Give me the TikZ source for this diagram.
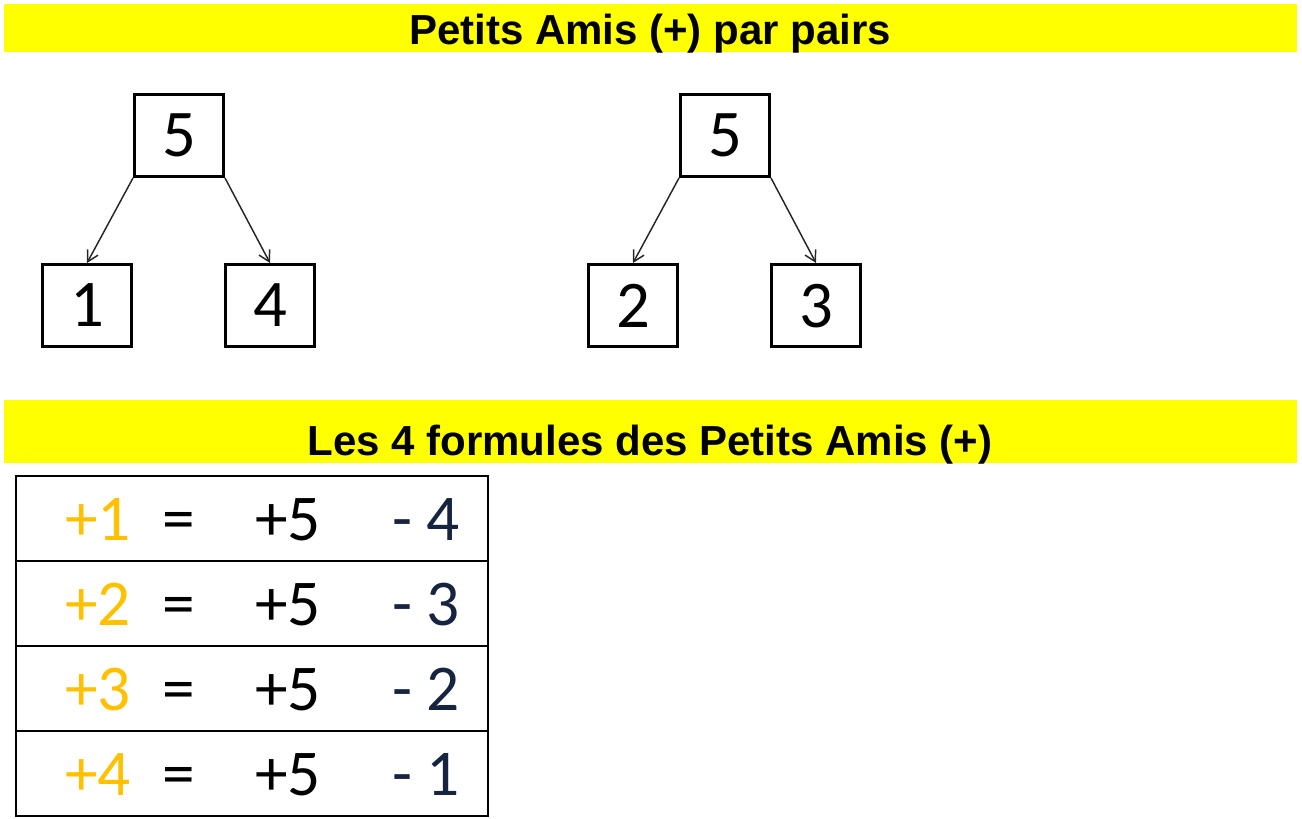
\documentclass[tikz,border=0pt]{standalone}
\usepackage{fontspec}
\setmainfont{Carlito}
\newfontfamily\titlefont{Liberation Sans}
\usetikzlibrary{arrows.meta}
\definecolor{bandyellow}{RGB}{255,255,0}
\definecolor{amigold}{RGB}{255,192,0}
\definecolor{darknavy}{RGB}{22,36,64}

\begin{document}
\begin{tikzpicture}[x=0.75pt,y=-0.75pt,
        numbox/.style={draw, line width=2.25pt, minimum width=66.75pt, minimum height=61.5pt, inner sep=0pt, font=\fontsize{50}{54}\selectfont},
        link/.style={-{Straight Barb[length=8pt,width=9pt]}, line width=1.1pt, draw=black!85},
        title/.style={anchor=base, font=\titlefont\bfseries\fontsize{31.5}{34}\selectfont},
        rowbox/.style={draw, line width=1.5pt, minimum width=354pt, minimum height=63.75pt, inner sep=0pt, anchor=north west},
        cell/.style={anchor=base, font=\fontsize{49}{52}\selectfont}]
        \useasboundingbox (0,0) rectangle (1302,818);

        % bandeaux jaunes
        \fill[bandyellow] (4,4) rectangle (1297,52);
        \fill[bandyellow] (4,400) rectangle (1297,463);
        \node[title] (titre1) at (650,44) {Petits Amis (+) par pairs};
        \node[title] (titre2) at (650,455) {Les 4 formules des Petits Amis (+)};

        % premier arbre
        \node[numbox, text depth=-3pt] (cinqA) at (179,135.5) {5};
        \node[numbox, text depth=-3pt] (un) at (87,305.5) {1};
        \node[numbox, text depth=-3pt] (quatre) at (270,305.5) {4};
        \draw[link] (cinqA.south west) -- (un.north);
        \draw[link] (cinqA.south east) -- (quatre.north);

        % second arbre
        \node[numbox, text depth=-3pt] (cinqB) at (725,135.5) {5};
        \node[numbox, text depth=-3pt] (deux) at (633,305.5) {2};
        \node[numbox, text depth=-3pt] (trois) at (816,305.5) {3};
        \draw[link] (cinqB.south west) -- (deux.north);
        \draw[link] (cinqB.south east) -- (trois.north);

        % tableau des formules
        \foreach \a/\b [count=\i] in {1/4,2/3,3/2,4/1}{
            \node[rowbox] (ligne\i) at (15,{475+85*(\i-1)}) {};
            \node[cell, text=amigold] (gauche\i) at (98,{540+85*(\i-1)}) {+\a};
            \node[cell] (egal\i) at (179,{540+85*(\i-1)}) {=};
            \node[cell] (cinq\i) at (288,{540+85*(\i-1)}) {+5};
            \node[cell, text=darknavy] (moins\i) at (426,{540+85*(\i-1)}) {- \b};
        }

    \end{tikzpicture}
\end{document}
